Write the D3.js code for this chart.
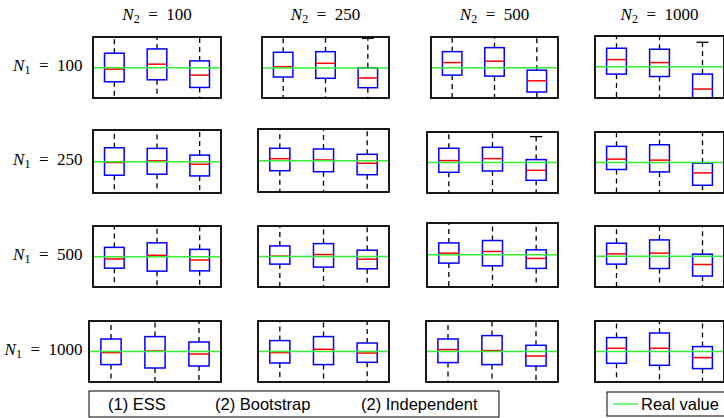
<!DOCTYPE html>
<html>
<head>
<meta charset="utf-8">
<script src="https://cdn.jsdelivr.net/npm/d3@7"></script>
<style>
  body{margin:0;background:#fff;}
  svg{display:block;}
</style>
</head>
<body>
<script>

//data (values relative to the real value, which is 0)
var n1Labels = ['100','250','500','1000'];
var n2Labels = ['100','250','500','1000'];
var methods = ['(1) ESS','(2) Bootstrap','(2) Independent'];
var realValue = 0;

//y limits of each panel, row by row (N1), column by column (N2)
var yLimits = [
  [-3.03,3.10],[-3.00,3.10],[-3.05,3.08],[-3.13,3.10],
  [-3.10,3.17],[-3.13,3.17],[-3.05,3.05],[-3.04,3.03],
  [-3.06,3.10],[-3.06,3.07],[-3.25,3.18],[-3.10,3.03],
  [-3.04,3.06],[-3.04,3.06],[-3.04,3.06],[-3.04,3.06]
];

var medians = [
  [-0.13,0.37,-0.73],[0.13,0.47,-1.00],[0.51,0.65,-1.32],[0.73,0.43,-2.23],
  [-0.06,0.10,-0.23],[0.20,0.07,-0.26],[0.19,0.39,-0.78],[0.33,0.23,-1.04],
  [-0.23,0.14,-0.33],[0.04,0.20,-0.26],[0.15,0.32,-0.38],[0.23,0.30,-0.84],
  [-0.10,0.06,-0.24],[-0.10,0.23,-0.14],[0.20,0.10,-0.44],[0.33,0.33,-0.60]
];

var q1 = [
  [-1.40,-1.20,-1.97],[-0.90,-1.03,-1.97],[-0.75,-0.85,-2.45],[-0.73,-0.97,-3.50],
  [-1.33,-1.23,-1.40],[-1.00,-1.10,-1.40],[-0.98,-0.85,-1.78],[-0.70,-0.94,-2.27],
  [-1.16,-1.46,-1.43],[-0.76,-1.06,-1.23],[-0.85,-1.12,-1.38],[-0.80,-1.24,-2.00],
  [-1.30,-1.64,-1.44],[-1.14,-1.30,-1.07],[-1.10,-1.30,-1.44],[-1.17,-1.37,-1.70]
];

var q3 = [
  [1.47,1.90,0.70],[1.57,1.63,0.03],[1.61,2.01,-0.25],[1.87,1.77,-0.73],
  [1.40,1.34,0.67],[1.24,1.17,0.64],[1.42,1.52,0.29],[1.60,1.76,-0.07],
  [0.94,1.40,0.74],[1.07,1.30,0.64],[1.18,1.42,0.48],[1.30,1.63,0.20],
  [1.26,1.50,0.96],[1.10,1.50,0.86],[1.26,1.60,0.63],[1.40,1.86,0.50]
];

var whiskerLow = [
  [-5.2,-5.0,-5.6],[-4.6,-4.8,-5.3],[-4.4,-4.6,-5.8],[-4.3,-4.7,-6.5],
  [-5.0,-4.9,-4.6],[-4.5,-4.6,-4.6],[-4.6,-4.5,-4.9],[-4.2,-4.6,-5.6],
  [-4.4,-5.4,-4.7],[-4.0,-4.6,-4.2],[-4.2,-4.9,-4.4],[-4.0,-4.8,-5.3],
  [-5.1,-5.8,-5.0],[-4.6,-4.9,-4.0],[-4.6,-5.0,-4.6],[-4.7,-5.2,-5.0]
];

var whiskerHigh = [
  [5.3,5.6,4.6],[5.1,5.3,2.97],[4.9,5.4,4.0],[5.4,5.3,2.47],
  [5.1,4.9,3.8],[4.7,4.6,3.7],[4.9,4.9,2.59],[4.9,5.3,3.3],
  [4.0,5.5,3.07],[4.4,4.9,3.5],[4.6,5.2,3.15],[4.6,5.6,3.5],
  [5.0,5.6,4.4],[4.6,5.3,3.9],[4.8,5.6,3.6],[5.2,6.0,3.7]
];

//layout of the panel frames [x0,y0,x1,y1]
var frames = [
  [93,37,221,98],[262,37,389,98],[431,37,558,98],[595,36,724,98],
  [93,130,221,193],[258,129,389,192],[427,132,558,193],[595,132,724,193],
  [93,226,221,287],[258,226,389,287],[427,223,558,287],[595,226,724,287],
  [89,321,221,382],[258,321,389,382],[426,321,558,382],[595,321,724,382]
];

var W = 724, H = 418;
var boxW = 0.46, capW = 0.28;
var serif = '"Liberation Serif","DejaVu Serif",serif';
var sans = '"Liberation Sans",Arial,sans-serif';

var svg = d3.select('body')
    .append('svg')
    .attr('width',W)
    .attr('height',H);

var defs = svg.append('defs');

function mathLabel(sel,sub,value){
    sel.append('tspan').style('font-style','italic').text('N');
    sel.append('tspan').attr('dy',3).style('font-size','12px').text(sub);
    sel.append('tspan').attr('dy',-3).text('\u2002=\u2002' + value);
}

frames.forEach(function(f,i){

    var row = Math.floor(i/4), col = i%4;

    //set scale
    var scaleX = d3.scaleLinear()
        .domain([0.5,3.5])
        .range([f[0],f[2]]);
    var scaleY = d3.scaleLinear()
        .domain(yLimits[i])
        .range([f[3],f[1]]);

    defs.append('clipPath')
        .attr('id','clip'+i)
        .append('rect')
        .attr('x',f[0])
        .attr('y',f[1])
        .attr('width',f[2]-f[0])
        .attr('height',f[3]-f[1]);

    var plot = svg.append('g')
        .attr('class','panel')
        .attr('clip-path','url(#clip'+i+')');

    var boxes = [0,1,2].map(function(k){
        return {
          pos:k+1,
          lo:whiskerLow[i][k], q1:q1[i][k], med:medians[i][k],
          q3:q3[i][k], hi:whiskerHigh[i][k]
        };
    });

    //whiskers
    [['q3','hi'],['q1','lo']].forEach(function(p){
        plot.selectAll('.whisker-'+p[1])
            .data(boxes)
            .enter()
            .append('line')
            .attr('x1',function(d){return scaleX(d.pos)})
            .attr('x2',function(d){return scaleX(d.pos)})
            .attr('y1',function(d){return scaleY(d[p[0]])})
            .attr('y2',function(d){return scaleY(d[p[1]])})
            .style('stroke','#000')
            .style('stroke-width',1.3)
            .style('stroke-dasharray','5,4');
    });

    //caps
    ['lo','hi'].forEach(function(key){
        plot.selectAll('.cap-'+key)
            .data(boxes)
            .enter()
            .append('line')
            .attr('x1',function(d){return scaleX(d.pos-capW/2)})
            .attr('x2',function(d){return scaleX(d.pos+capW/2)})
            .attr('y1',function(d){return scaleY(d[key])})
            .attr('y2',function(d){return scaleY(d[key])})
            .style('stroke','#000')
            .style('stroke-width',1.3);
    });

    //boxes
    plot.selectAll('.box')
        .data(boxes)
        .enter()
        .append('rect')
        .attr('x',function(d){return scaleX(d.pos-boxW/2)})
        .attr('width',function(d){return scaleX(d.pos+boxW/2)-scaleX(d.pos-boxW/2)})
        .attr('y',function(d){return scaleY(d.q3)})
        .attr('height',function(d){return scaleY(d.q1)-scaleY(d.q3)})
        .style('fill','#fff')
        .style('stroke','#0000ff')
        .style('stroke-width',1.5);

    //medians
    plot.selectAll('.median')
        .data(boxes)
        .enter()
        .append('line')
        .attr('x1',function(d){return scaleX(d.pos-boxW/2)})
        .attr('x2',function(d){return scaleX(d.pos+boxW/2)})
        .attr('y1',function(d){return scaleY(d.med)})
        .attr('y2',function(d){return scaleY(d.med)})
        .style('stroke','#ff0000')
        .style('stroke-width',1.5);

    //real value
    plot.append('line')
        .attr('x1',f[0])
        .attr('x2',f[2])
        .attr('y1',scaleY(realValue))
        .attr('y2',scaleY(realValue))
        .style('stroke','#33ee33')
        .style('stroke-width',1.5);

    //frame
    svg.append('rect')
        .attr('x',f[0])
        .attr('y',f[1])
        .attr('width',f[2]-f[0])
        .attr('height',f[3]-f[1])
        .style('fill','none')
        .style('stroke','#000')
        .style('stroke-width',1.8);

    //titles
    if(row===0){
        svg.append('text')
            .attr('x',(f[0]+f[2])/2)
            .attr('y',20)
            .attr('text-anchor','middle')
            .style('font-family',serif)
            .style('font-size','17px')
            .call(mathLabel,'2',n2Labels[col]);
    }
    if(col===0){
        svg.append('text')
            .attr('x',82.5)
            .attr('y',(f[1]+f[3])/2+3)
            .attr('text-anchor','end')
            .style('font-family',serif)
            .style('font-size','17px')
            .call(mathLabel,'1',n1Labels[row]);
    }
});

//legend 1
var legend = svg.append('g').attr('class','legend');
legend.append('rect')
    .attr('x',89).attr('y',391)
    .attr('width',410).attr('height',26)
    .style('fill','#fff')
    .style('stroke','#000')
    .style('stroke-width',1);

var legendX = [108,215,361];
legend.selectAll('.method')
    .data(methods)
    .enter()
    .append('text')
    .attr('x',function(d,i){return legendX[i]})
    .attr('y',410)
    .style('font-family',sans)
    .style('font-size','16.5px')
    .text(function(d){return d});

//legend 2
var legend2 = svg.append('g').attr('class','legend2');
legend2.append('rect')
    .attr('x',607).attr('y',392)
    .attr('width',130).attr('height',24)
    .style('fill','#fff')
    .style('stroke','#000')
    .style('stroke-width',1);
legend2.append('line')
    .attr('x1',613).attr('x2',638)
    .attr('y1',404).attr('y2',404)
    .style('stroke','#33ee33')
    .style('stroke-width',1.3);
legend2.append('text')
    .attr('x',641).attr('y',410)
    .style('font-family',sans)
    .style('font-size','16.5px')
    .text('Real value');

</script>
</body>
</html>
